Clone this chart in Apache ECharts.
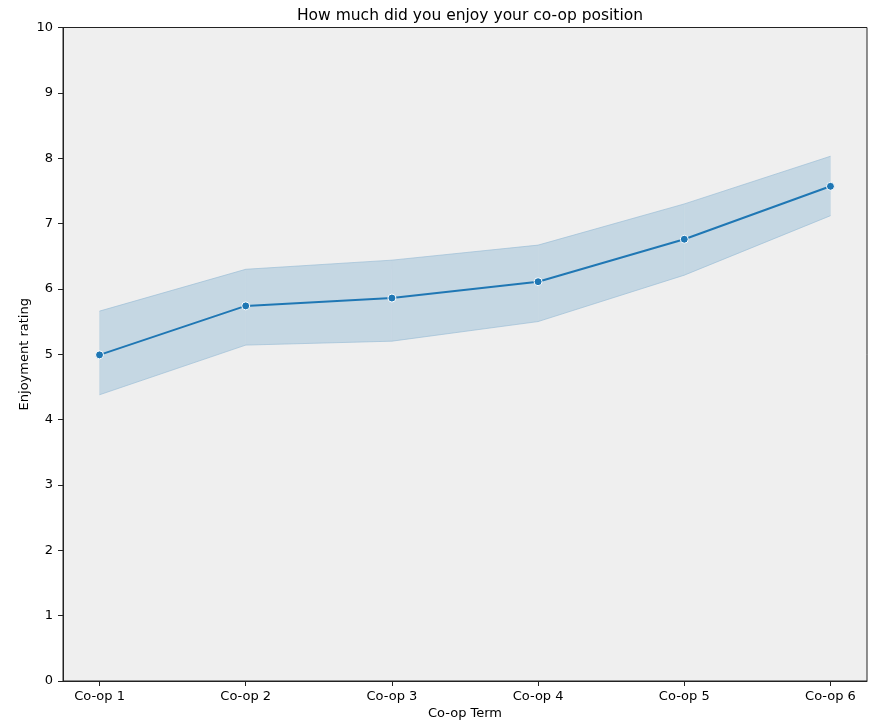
<!DOCTYPE html>
<html>
<head>
<meta charset="utf-8">
<script src="https://cdn.jsdelivr.net/npm/echarts@6/dist/echarts.min.js"></script>
<style>html,body{margin:0;padding:0;background:#fff;}#c{width:869px;height:723px;}</style>
</head>
<body>
<div id="c"></div>
<script>
const categories = ['Co-op 1','Co-op 2','Co-op 3','Co-op 4','Co-op 5','Co-op 6'];
const meanValues = [4.99, 5.74, 5.86, 6.11, 6.76, 7.57];
const upperValues = [5.66, 6.30, 6.44, 6.67, 7.30, 8.03];
const lowerValues = [4.38, 5.14, 5.20, 5.50, 6.21, 7.12];
const yTicks = [0,1,2,3,4,5,6,7,8,9,10];

const font = 'DejaVu Sans';
const idx = categories.map((_, i) => i);
const bandData = idx.map(i => [i, lowerValues[i], upperValues[i]]);
const chart = echarts.init(document.getElementById('c'));
chart.setOption({
  backgroundColor: '#ffffff',
  animation: false,
  title: {
    text: 'How much did you enjoy your co-op position',
    left: 465, top: 3, textAlign: 'center',
    textStyle: {fontFamily: font, fontSize: 15.5, fontWeight: 'normal', color: '#000'}
  },
  grid: {left: 63, right: 2, top: 27.5, bottom: 42, show: true, outerBoundsMode: 'none', containLabel: false,
    backgroundColor: '#efefef', borderColor: '#222', borderWidth: 1},
  xAxis: {
    type: 'value', min: -0.25, max: 5.25,
    name: 'Co-op Term', nameLocation: 'middle', nameGap: 26, nameMoveOverlap: false,
    nameTextStyle: {fontFamily: font, fontSize: 13, color: '#000'},
    axisLine: {show: true, onZero: false, lineStyle: {color: '#222'}},
    axisTick: {show: true, length: 5, customValues: idx, lineStyle: {color: '#222'}},
    axisLabel: {customValues: idx, margin: 9, fontFamily: font, fontSize: 13, color: '#000',
      formatter: v => categories[Math.round(v)] || ''},
    splitLine: {show: false}
  },
  yAxis: {
    type: 'value', min: 0, max: 10, interval: 1,
    name: 'Enjoyment rating', nameLocation: 'middle', nameGap: 32, nameRotate: 90, nameMoveOverlap: false,
    nameTextStyle: {fontFamily: font, fontSize: 13, color: '#000'},
    axisLine: {show: true, onZero: false, lineStyle: {color: '#222'}},
    axisTick: {show: true, length: 5, lineStyle: {color: '#222'}},
    axisLabel: {margin: 10, fontFamily: font, fontSize: 13, color: '#000',
      formatter: v => yTicks.includes(v) ? String(v) : ''},
    splitLine: {show: false}
  },
  series: [
    {
      type: 'custom', silent: true,
      data: bandData,
      encode: {x: 0, y: [1, 2]},
      renderItem: function (params, api) {
        const i = api.value(0);
        if (i >= categories.length - 1) return null;
        const a = api.coord([i, api.value(1)]);
        const b = api.coord([i, api.value(2)]);
        const c = api.coord([i + 1, upperValues[i + 1]]);
        const d = api.coord([i + 1, lowerValues[i + 1]]);
        return {
          type: 'polygon',
          shape: {points: [a, b, c, d]},
          style: {fill: '#c5d7e3', stroke: '#c5d7e3', lineWidth: 0.5}
        };
      },
      z: 1
    },
    {
      type: 'line', symbol: 'none', silent: true,
      data: lowerValues.map((v, i) => [i, v]),
      lineStyle: {color: 'rgba(31,119,180,0.18)', width: 1}, z: 2
    },
    {
      type: 'line', symbol: 'none', silent: true,
      data: upperValues.map((v, i) => [i, v]),
      lineStyle: {color: 'rgba(31,119,180,0.18)', width: 1}, z: 2
    },
    {
      type: 'line', symbol: 'circle', symbolSize: 8,
      data: meanValues.map((v, i) => [i, v]),
      lineStyle: {color: '#1f77b4', width: 2},
      itemStyle: {color: '#1f77b4', borderColor: '#ffffff', borderWidth: 1}, z: 3
    }
  ]
});
</script>
</body>
</html>
